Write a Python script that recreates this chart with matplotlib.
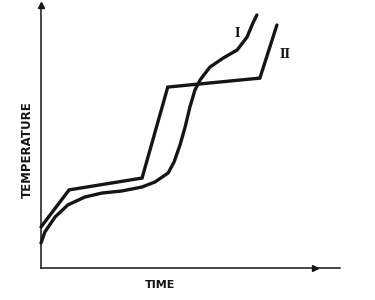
import matplotlib
matplotlib.use("Agg")
import matplotlib.pyplot as plt

# curve I: smooth heating curve (time, temperature), arbitrary units
time_1 = [0, 1.3, 4.7, 9.0, 14.7, 20.4, 27.1, 33.8, 38.1, 42.5, 44.5, 46.5,
          48.2, 49.8, 51.5, 53.2, 56.5, 60.9, 65.6, 68.9, 70.9, 72.2]
temp_1 = [9.5, 13.7, 19.4, 24.0, 27.0, 28.5, 29.3, 30.8, 32.7, 36.1, 40.3, 46.8,
          53.6, 61.2, 67.7, 71.5, 76.4, 79.8, 82.9, 87.8, 93.2, 96.2]

# curve II: piecewise-linear heating curve
time_2 = [0, 9.4, 33.8, 42.4, 73.2, 78.9]
temp_2 = [15.6, 29.7, 34.2, 68.8, 72.2, 92.4]

ink = "#151515"

fig = plt.figure(figsize=(3.75, 3.0), dpi=100)
# axes origin at pixel (41, 268), x to 340, y up to 5
ax = fig.add_axes([41/375, 32/300, 299/375, 263/300])
ax.set_xlim(0, 100)
ax.set_ylim(0, 100)
ax.patch.set_alpha(0)
for s in ["top", "right"]:
    ax.spines[s].set_visible(False)
for s in ["left", "bottom"]:
    ax.spines[s].set_color(ink)
    ax.spines[s].set_linewidth(1.1)
ax.set_xticks([])
ax.set_yticks([])

ax.plot(time_1, temp_1, color=ink, lw=2.4, solid_capstyle="round",
        solid_joinstyle="round", clip_on=False)
ax.plot(time_2, temp_2, color=ink, lw=2.4, solid_capstyle="round",
        solid_joinstyle="miter", clip_on=False)

# arrow heads on the axes
ax.plot([0], [100], marker="^", ms=5, color=ink, clip_on=False)
ax.plot([91.6], [0], marker=">", ms=5, color=ink, clip_on=False)

ax.text(65.5, 89, "I", fontsize=8.5, fontweight="bold", family="DejaVu Serif",
        color=ink, ha="center", va="center")
ax.text(81.5, 81, "II", fontsize=8.5, fontweight="bold", family="DejaVu Serif",
        color=ink, ha="center", va="center")

fig.text(27/375, 1 - 150/300, "TEMPERATURE", rotation=90, fontsize=8.5,
         fontweight="bold", color=ink, ha="center", va="center")
fig.text(160/375, 1 - 285/300, "TIME", fontsize=8, fontweight="bold",
         color=ink, ha="center", va="center")

fig.savefig("out.png", dpi=100)
